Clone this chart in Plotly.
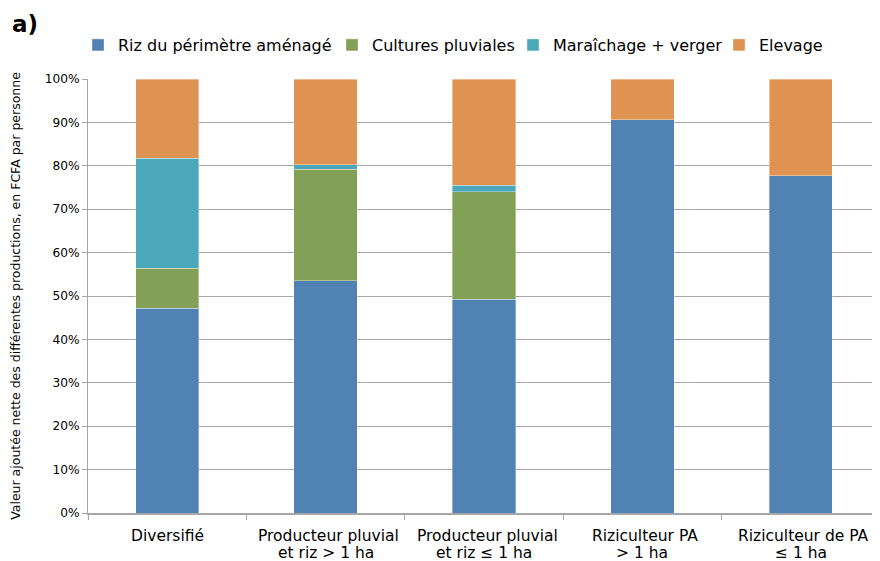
import plotly.graph_objects as go

categories = ["Diversifié", "Producteur pluvial et riz > 1 ha", "Producteur pluvial et riz ≤ 1 ha",
              "Riziculteur PA > 1 ha", "Riziculteur de PA ≤ 1 ha"]
label_line1 = ["Diversifié", "Producteur pluvial", "Producteur pluvial", "Riziculteur PA", "Riziculteur de PA"]
label_line2 = ["", "et riz > 1 ha", "et riz ≤ 1 ha", "> 1 ha", "≤ 1 ha"]
riz = [47.2, 53.5, 49.2, 90.6, 77.7]
cultures = [9.2, 25.7, 24.8, 0, 0]
maraichage = [25.3, 1.1, 1.5, 0, 0]
elevage = [18.3, 19.7, 24.5, 9.4, 22.3]
ytick_vals = [0, 10, 20, 30, 40, 50, 60, 70, 80, 90, 100]
ytick_text = [f"{v}%" for v in ytick_vals]

series_names = ["Riz du périmètre aménagé", "Cultures pluviales", "Maraîchage + verger", "Elevage"]
series_values = [riz, cultures, maraichage, elevage]
series_colors = ["#5083B3", "#83A057", "#4BA8BA", "#DF9352"]
legend_text_x = [117, 371, 552, 758]   # page x where each legend label starts

FONT = "DejaVu Sans"
W, H = 872, 553          # page has 8px body margin
L, T, B, R = 80, 71, 48, 0
PH = H - T - B
PW = W - L - R

fig = go.Figure()
legend_ids = ["legend", "legend2", "legend3", "legend4"]
for name, vals, col, lid in zip(series_names, series_values, series_colors, legend_ids):
    fig.add_trace(go.Bar(x=categories, y=vals, name=name, width=0.4, legend=lid,
                         marker=dict(color=col, line=dict(color="rgba(255,255,255,0.6)", width=0.6))))

legend_layout = {}
for lid, tx in zip(legend_ids, legend_text_x):
    fx = tx - 39 - 8
    legend_layout[lid] = dict(orientation="h", x=(fx - L) / PW, xanchor="left",
                              y=1 + (T - 37) / PH, yanchor="middle",
                              font=dict(size=16), itemwidth=30, bgcolor="rgba(0,0,0,0)")

fig.update_layout(
    barmode="stack",
    width=W, height=H,
    margin=dict(l=L, r=R, t=T, b=B, autoexpand=False),
    paper_bgcolor="white", plot_bgcolor="white",
    font=dict(family=FONT, color="black"),
    showlegend=True,
    **legend_layout,
)
fig.update_yaxes(range=[0, 100], tickvals=ytick_vals, ticktext=ytick_text,
                 showgrid=True, gridcolor="#A6A6A6", gridwidth=1,
                 showline=True, linecolor="#A6A6A6", linewidth=1,
                 ticks="outside", ticklen=5, tickcolor="#A6A6A6",
                 tickfont=dict(size=12.2), zeroline=False, automargin=False,
                 title=dict(text="Valeur ajoutée nette des différentes productions, en FCFA par personne",
                            font=dict(size=12.5), standoff=22))
fig.update_xaxes(showline=True, linecolor="#A6A6A6", linewidth=1.5,
                 ticks="outside", tickson="boundaries", ticklen=5, tickcolor="#A6A6A6",
                 showticklabels=False, automargin=False)

for cat, l1, l2 in zip(categories, label_line1, label_line2):
    fig.add_annotation(text=l1, x=cat, xref="x", yref="paper", y=(T + PH - 528) / PH,
                       xanchor="center", yanchor="middle", showarrow=False,
                       xshift=3 if l2 else 0, font=dict(size=15.5))
    if l2:
        fig.add_annotation(text=l2, x=cat, xref="x", yref="paper", y=(T + PH - 545) / PH,
                           xanchor="center", yanchor="middle", showarrow=False, font=dict(size=15.5))

fig.add_annotation(text="<b>a)</b>", xref="paper", yref="paper", x=(2 - L) / PW, y=1 + (T - 1) / PH,
                   xanchor="left", yanchor="top", showarrow=False, font=dict(size=23))
fig.write_html("out.html")
